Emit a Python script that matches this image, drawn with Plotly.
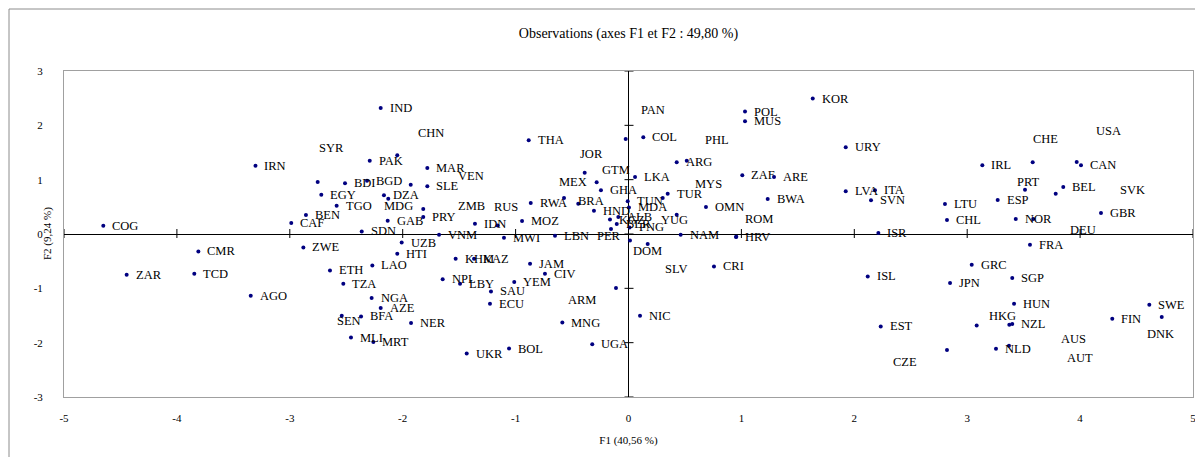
import plotly.graph_objects as go

# ---------------- data ----------------
countries = ["COG","IRN","IND","PAK","CHN","MAR","BDI","BGD","VEN","SLE","SYR","EGY","DZA","MDG","TGO",
             "ZMB","PRY","BEN","CAF","GAB","SDN","UZB","VNM","THA","GTM","JOR","BRA","MEX","GHA","RWA",
             "HND","IDN","RUS","MOZ","MWI","LBN","PER","PAN","POL","MUS","KOR","COL","ARG","PHL","LKA",
             "ZAF","ARE","TUR","MYS","BWA","OMN","TUN","MDA","YUG","NAM","HRV","ROM","DOM","SLV","CRI",
             "NIC","ALB","KGZ","BLR","PNG",
             "URY","IRL","LVA","ITA","SVN","LTU","CHL","ISR","ESP","NOR","DEU","CHE","USA","CAN","PRT",
             "BEL","SVK","GBR","FRA","GRC","ISL","JPN","SGP","HUN","HKG","NZL","AUS","EST","CZE","NLD",
             "AUT","SWE","DNK","FIN",
             "CMR","ZAR","TCD","AGO","ZWE","HTI","ETH","LAO","NPL","TZA","NGA","AZE","SEN","BFA","NER",
             "MLI","MRT","KHM","KAZ","JAM","CIV","LBY","YEM","SAU","ECU","ARM","MNG","UGA","UKR","BOL"]

f1 = [-4.652,-3.304,-2.195,-2.292,-2.048,-1.782,-2.511,-2.316,-1.929,-1.782,-2.753,-2.721,-2.166,-2.128,-2.585,
      -1.818,-1.818,-2.857,-2.987,-2.133,-2.363,-2.009,-1.678,-0.884,-0.388,-0.282,-0.571,-0.445,-0.244,-0.866,
      -0.306,-1.360,-1.159,-0.943,-1.103,-0.651,-0.155,-0.025,1.032,1.032,1.632,0.131,0.427,0.516,0.058,
      1.008,1.289,0.347,0.303,1.233,0.686,-0.007,0.004,0.427,0.462,0.952,0.955,0.013,0.170,0.757,
      0.102,-0.090,-0.164,-0.104,0.010,
      1.924,3.134,1.924,2.183,2.148,2.803,2.821,2.213,3.270,3.430,3.585,3.580,3.970,4.008,3.512,
      3.851,3.784,4.185,3.556,3.040,2.119,2.848,3.399,3.415,3.084,3.399,3.373,2.234,2.821,3.255,
      3.370,4.613,4.723,4.285,
      -3.810,-4.445,-3.846,-3.346,-2.880,-2.048,-2.644,-2.269,-1.646,-2.526,-2.275,-2.195,-2.540,-2.369,-1.926,
      -2.458,-2.260,-1.531,-1.368,-0.872,-0.740,-1.492,-1.012,-1.218,-1.227,-0.111,-0.586,-0.321,-1.433,-1.058]

f2 = [0.153,1.258,2.321,1.350,1.448,1.216,0.932,0.982,0.908,0.877,0.958,0.724,0.711,0.650,0.521,
      0.461,0.313,0.350,0.203,0.245,0.048,-0.157,-0.013,1.724,1.129,0.951,0.663,0.558,0.803,0.571,
      0.429,0.190,0.158,0.240,-0.068,-0.031,0.092,1.750,2.253,2.074,2.493,1.780,1.319,1.350,1.050,
      1.080,1.050,0.742,0.663,0.645,0.497,0.601,0.490,0.356,-0.013,-0.055,-0.050,-0.118,-0.184,-0.597,
      -1.505,0.313,0.265,0.183,0.120,
      1.595,1.264,0.785,0.803,0.619,0.553,0.258,0.018,0.626,0.276,0.276,1.319,1.326,1.264,0.816,
      0.866,0.742,0.387,-0.197,-0.566,-0.781,-0.903,-0.811,-1.284,-1.684,-1.658,-1.671,-1.702,-2.137,-2.113,
      -2.058,-1.303,-1.529,-1.560,
      -0.321,-0.750,-0.731,-1.137,-0.247,-0.363,-0.671,-0.578,-0.833,-0.916,-1.179,-1.363,-1.505,-1.518,-1.640,
      -1.905,-1.990,-0.455,-0.455,-0.547,-0.731,-0.916,-0.884,-1.057,-1.284,-0.995,-1.629,-2.027,-2.200,-2.108]

# labels that sit away from their point: left-edge anchor of the text, in axis units
moved_labels = {
    "SYR": (-2.741, 1.590), "CHN": (-1.864, 1.866), "VEN": (-1.513, 1.061), "ZMB": (-1.513, 0.521),
    "RUS": (-1.191, 0.490), "JOR": (-0.430, 1.479), "MEX": (-0.616, 0.951), "GTM": (-0.235, 1.185),
    "BRA": (-0.447, 0.601), "MDG": (-2.166, 0.521), "PAN": (0.108, 2.277), "PHL": (0.678, 1.737),
    "MYS": (0.589, 0.921), "YUG": (0.285, 0.251), "ROM": (1.032, 0.276), "DOM": (0.040, -0.308),
    "SLV": (0.323, -0.639), "PER": (-0.282, -0.044), "ARM": (-0.533, -1.210), "SEN": (-2.585, -1.597),
    "CHE": (3.583, 1.756), "USA": (4.138, 1.903), "PRT": (3.438, 0.951), "SVK": (4.353, 0.816),
    "DEU": (3.911, 0.079), "HKG": (3.193, -1.518), "AUS": (3.828, -1.929), "AUT": (3.881, -2.273),
    "CZE": (2.340, -2.347), "DNK": (4.590, -1.842),
}

x_ticks = [-5, -4, -3, -2, -1, 0, 1, 2, 3, 4, 5]
y_ticks = [-3, -2, -1, 0, 1, 2, 3]

title_text = "Observations (axes F1 et F2 : 49,80 %)"
x_title = "F1 (40,56 %)"
y_title = "F2 (9,24 %)"

# ---------------- figure ----------------
FONT = "Liberation Serif, Times New Roman, serif"
W, H = 1195, 449          # page body keeps an 8 px margin
L, R, T, B = 56, 10, 63, 60
PW, PH = W - L - R, H - T - B
LABEL_SIZE = 12.5

fig = go.Figure()
fig.add_trace(go.Scatter(
    x=f1, y=f2, mode="markers", text=countries, hoverinfo="text",
    marker=dict(size=4, color="#000080", line=dict(width=0)),
    showlegend=False, cliponaxis=False,
))

annotations = []
for c, x, y in zip(countries, f1, f2):
    if c in moved_labels:
        lx, ly = moved_labels[c]
        annotations.append(dict(x=lx, y=ly, xref="x", yref="y", text=c, showarrow=False,
                                xanchor="left", yanchor="middle", xshift=-2,
                                font=dict(family=FONT, size=LABEL_SIZE, color="black")))
    else:
        annotations.append(dict(x=x, y=y, xref="x", yref="y", text=c, showarrow=False,
                                xanchor="left", yanchor="middle", xshift=7,
                                font=dict(family=FONT, size=LABEL_SIZE, color="black")))

# y axis title (placed by hand, close to the plot area)
annotations.append(dict(x=(39 - L) / PW, y=0.5, xref="paper", yref="paper", text=y_title,
                        showarrow=False, textangle=-90, xanchor="center", yanchor="middle",
                        font=dict(family=FONT, size=11, color="black")))

shapes = []
# cross-type tick marks on the axes that pass through the origin
for v in x_ticks:
    shapes.append(dict(type="line", xref="x", yref="y", xsizemode="scaled", ysizemode="pixel",
                       yanchor=0, x0=v, x1=v, y0=-4, y1=5, line=dict(color="black", width=1)))
for v in y_ticks:
    shapes.append(dict(type="line", xref="x", yref="y", xsizemode="pixel", ysizemode="scaled",
                       xanchor=0, x0=-4, x1=5, y0=v, y1=v, line=dict(color="black", width=1)))
# chart-area frame (left and top edges visible)
shapes.append(dict(type="rect", xref="paper", yref="paper", layer="below",
                   x0=(1 - L) / PW, x1=1 + 40 / PW, y0=-100 / PH, y1=1 + (T - 1) / PH,
                   line=dict(color="#8c8c8c", width=1), fillcolor="rgba(0,0,0,0)"))

fig.update_layout(
    width=W, height=H,
    margin=dict(l=L, r=R, t=T, b=B, autoexpand=False),
    paper_bgcolor="white", plot_bgcolor="white",
    font=dict(family=FONT, size=11, color="black"),
    title=dict(text=title_text, x=0.5, xref="paper", yref="container", y=1 - 25 / H,
               yanchor="middle", font=dict(family=FONT, size=14, color="black")),
    xaxis=dict(range=[-5, 5], tickvals=x_ticks, ticktext=[str(v) for v in x_ticks],
               showgrid=False, zeroline=True, automargin=False,
               zerolinecolor="black", zerolinewidth=1, showline=True, mirror=True,
               linecolor="#a0a0a0", linewidth=1, ticks="", ticklabelstandoff=11,
               tickfont=dict(family=FONT, size=11, color="black"),
               title=dict(text=x_title, standoff=13, font=dict(family=FONT, size=11, color="black"))),
    yaxis=dict(range=[-3, 3], tickvals=y_ticks, ticktext=[str(v) for v in y_ticks],
               showgrid=False, zeroline=True, automargin=False,
               zerolinecolor="black", zerolinewidth=1, showline=True, mirror=True,
               linecolor="#a0a0a0", linewidth=1, ticks="", ticklabelstandoff=18,
               tickfont=dict(family=FONT, size=11, color="black")),
    annotations=annotations,
    shapes=shapes,
)

fig.write_html("out.html")
